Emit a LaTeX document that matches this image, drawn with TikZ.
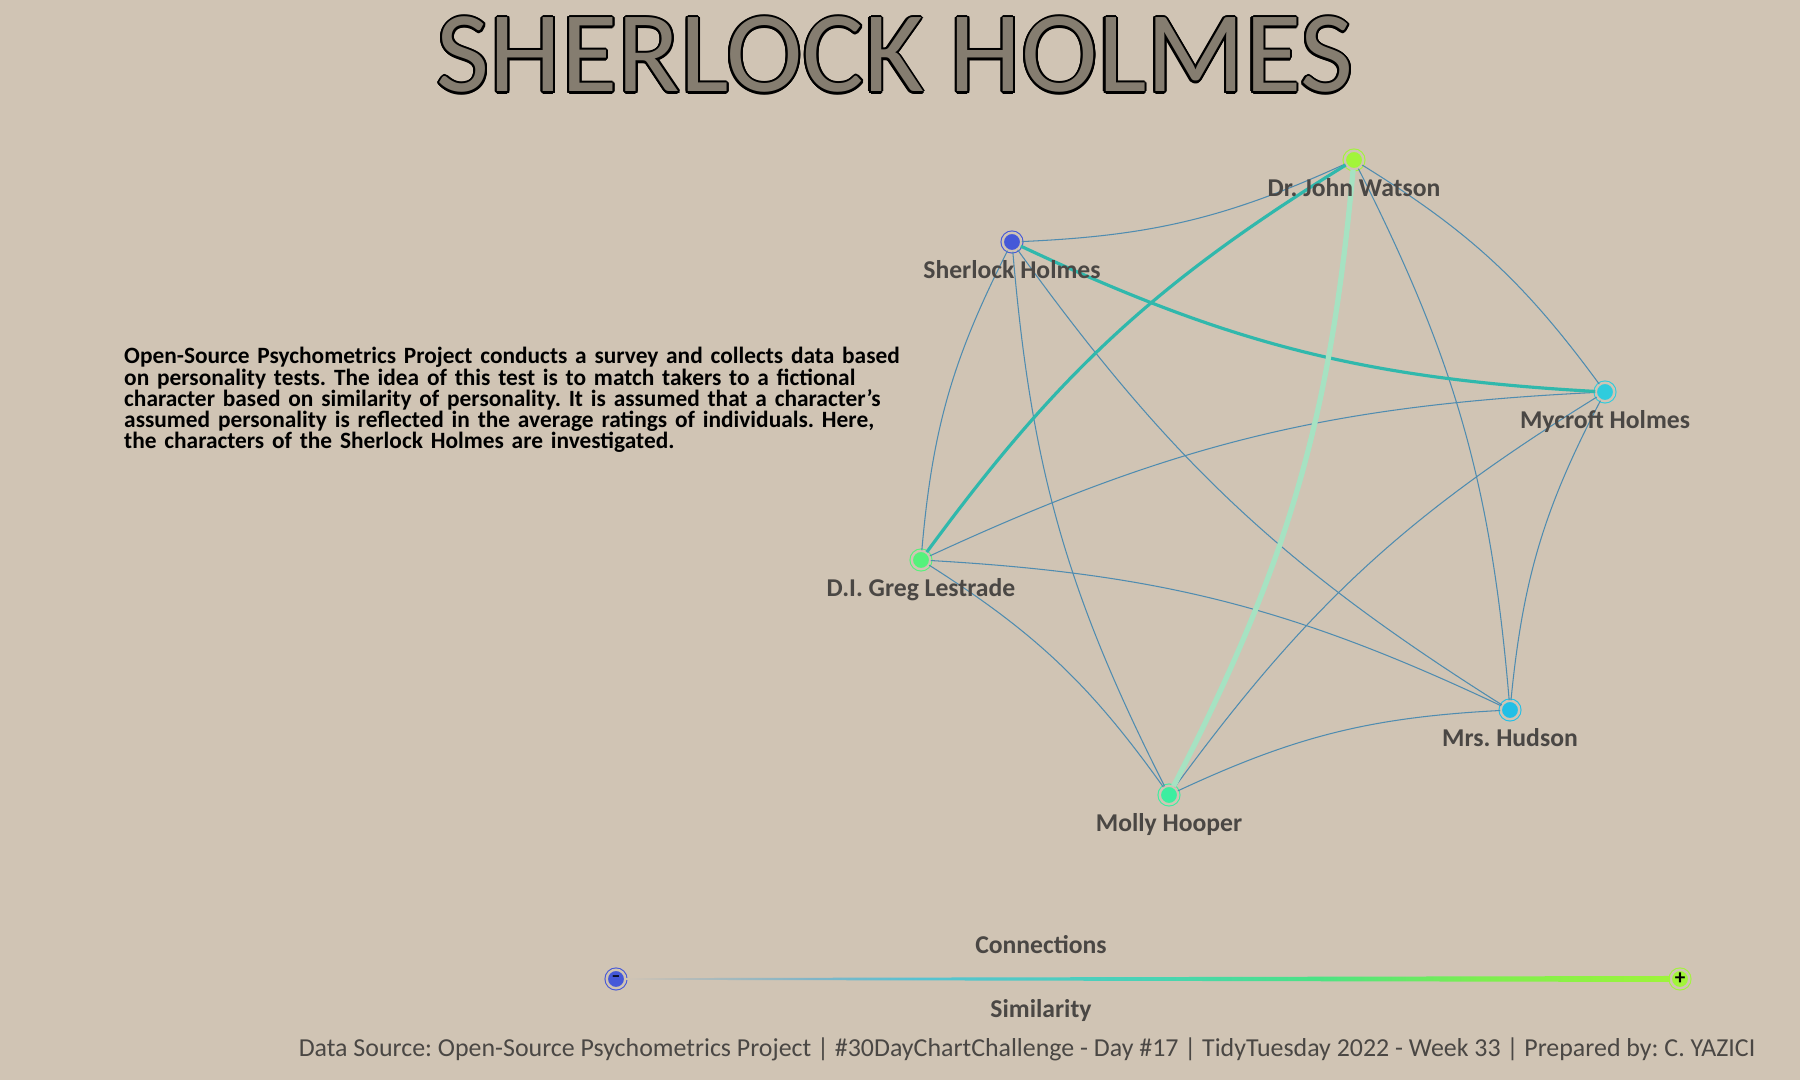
\documentclass[tikz,border=0pt]{standalone}
\usepackage{fontspec}
\setmainfont{Carlito}
\usepackage[copies]{contour}
\usetikzlibrary{positioning}

\definecolor{paper}{HTML}{D0C4B4}
\definecolor{titlefill}{HTML}{857D70}
\definecolor{labelgray}{HTML}{4A4744}
\definecolor{linkblue}{HTML}{4F8CB0}
\definecolor{tealline}{HTML}{30B8AC}
\definecolor{paleline}{HTML}{A6E2C2}
\definecolor{sherlockblue}{HTML}{4558D8}
\definecolor{watsongreen}{HTML}{A2F53A}
\definecolor{mycroftcyan}{HTML}{2FCCDD}
\definecolor{hudsoncyan}{HTML}{22BFE6}
\definecolor{lestradegreen}{HTML}{55F27B}
\definecolor{mollygreen}{HTML}{3CEEA0}
\definecolor{gradA}{HTML}{B4BBB9}
\definecolor{gradB}{HTML}{80B5C8}
\definecolor{gradC}{HTML}{56C2D2}
\definecolor{gradD}{HTML}{48D3B5}
\definecolor{gradE}{HTML}{4BE285}
\definecolor{gradF}{HTML}{7CEE4F}
\definecolor{gradG}{HTML}{9EF43A}

\pgfdeclarehorizontalshading{simgrad}{100bp}{color(0bp)=(paper); color(25bp)=(paper);
  color(28bp)=(gradA); color(34bp)=(gradB); color(39bp)=(gradC); color(50bp)=(gradD);
  color(58bp)=(gradE); color(66bp)=(gradF); color(75bp)=(gradG); color(100bp)=(gradG)}

\contourlength{0.6pt}
\lineskiplimit=-10pt
\frenchspacing

\begin{document}
\begin{tikzpicture}[bend angle=11]
	\tikzstyle{dot} = [circle, inner sep=0pt, minimum size=0.185cm, fill=#1, draw=#1, line width=0.3pt, double=paper, double distance=0.7pt]
	\tikzstyle{lbl} = [text=labelgray, font=\fontsize{7.3}{8}\selectfont\bfseries, inner sep=0pt]
	\tikzstyle{link} = [draw=linkblue, line width=0.3pt]
	\tikzstyle{strong} = [draw=tealline, line width=0.9pt]
	\tikzstyle{faint} = [draw=paleline, line width=1.5pt]
	\fill[paper] (0,0) rectangle (18,10.8);
	\node[font=\fontsize{32.8}{36}\selectfont, anchor=base, inner sep=0pt] (title) at (8.95,9.88)
		{\contour{black}{\textcolor{titlefill}{SHERLOCK HOLMES}}};
	\node[text width=9cm, align=left, anchor=base west, inner sep=0pt,
		font=\fontsize{6.65}{6}\selectfont\bfseries] (about) at (1.235,7.16)
		{Open-Source Psychometrics Project conducts a survey and collects data based\\
		on personality tests. The idea of this test is to match takers to a fictional\\
		character based on similarity of personality. It is assumed that a character's\\
		assumed personality is reflected in the average ratings of individuals. Here,\\
		the characters of the Sherlock Holmes are investigated.};
	% characters
		\node[dot=sherlockblue] (sherlock) at (10.12,8.38) {};
		\node[dot=watsongreen] (watson) at (13.54,9.20) {};
		\node[dot=mycroftcyan] (mycroft) at (16.05,6.88) {};
		\node[dot=lestradegreen] (lestrade) at (9.21,5.20) {};
		\node[dot=hudsoncyan] (hudson) at (15.10,3.70) {};
		\node[dot=mollygreen] (molly) at (11.69,2.85) {};
	\draw[link] (sherlock) to[bend right] (watson);
	\draw[link] (watson) to[bend left] (mycroft);
	\draw[link] (mycroft) to[bend right] (hudson);
	\draw[link] (hudson) to[bend right] (molly);
	\draw[link] (lestrade) to[bend left] (molly);
	\draw[link] (sherlock) to[bend right] (lestrade);
	\draw[link] (watson) to[bend left] (hudson);
	\draw[link] (sherlock) to[bend right] (molly);
	\draw[link] (sherlock) to[bend right] (hudson);
	\draw[link] (lestrade) to[bend left] (mycroft);
	\draw[link] (lestrade) to[bend left] (hudson);
	\draw[link] (mycroft) to[bend right] (molly);
	\draw[strong] (sherlock) to[bend right] (mycroft);
	\draw[strong] (watson) to[bend right] (lestrade);
	\draw[faint] (watson) to[bend left] (molly);
		\node[lbl, below=0.08cm of sherlock] (sherlockname) {Sherlock Holmes};
		\node[lbl, below=0.08cm of watson] (watsonname) {Dr. John Watson};
		\node[lbl, below=0.08cm of mycroft] (mycroftname) {Mycroft Holmes};
		\node[lbl, below=0.08cm of lestrade] (lestradename) {D.I. Greg Lestrade};
		\node[lbl, below=0.08cm of hudson] (hudsonname) {Mrs. Hudson};
		\node[lbl, below=0.08cm of molly] (mollyname) {Molly Hooper};
	% legend
		\node[dot=sherlockblue] (minus) at (6.16,1.01) {\fontsize{5}{5}\selectfont\bfseries --};
		\node[dot=watsongreen] (plus) at (16.80,1.01) {\fontsize{6}{6}\selectfont\bfseries +};
	\shade[shading=simgrad] ([yshift=0.008cm]minus.east) -- ([yshift=0.03cm]plus.west)
		-- ([yshift=-0.03cm]plus.west) -- ([yshift=-0.008cm]minus.east) -- cycle;
	\node[lbl, anchor=base] (connections) at (10.41,1.26) {Connections};
	\node[lbl, anchor=base] (similarity) at (10.41,0.62) {Similarity};
	\node[anchor=base east, inner sep=0pt, text=labelgray, font=\fontsize{7.37}{8}\selectfont] (credit) at (17.56,0.23)
		{Data Source: Open-Source Psychometrics Project | \#30DayChartChallenge - Day \#17 | TidyTuesday 2022 - Week 33 | Prepared by: C. YAZICI};
	\end{tikzpicture}
\end{document}
